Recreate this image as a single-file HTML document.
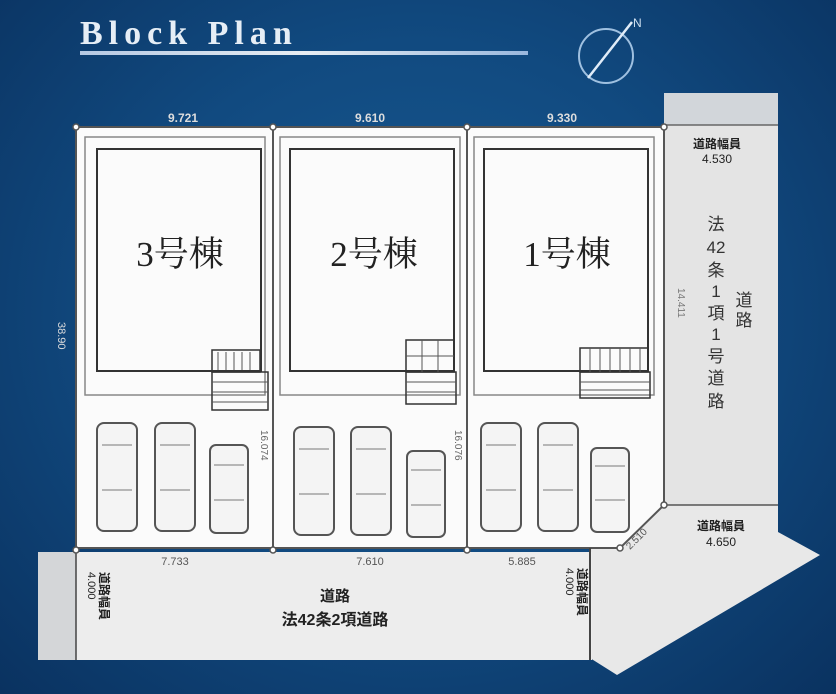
<!DOCTYPE html>
<html><head><meta charset="utf-8"><style>
body{margin:0;width:836px;height:694px;overflow:hidden;background:radial-gradient(ellipse at 50% 45%,#185a92 0%,#114a80 50%,#0a3260 100%);font-family:"Liberation Serif","Noto Serif CJK SC",serif;}
svg{position:absolute;left:0;top:0}
</style></head><body>
<svg width="836" height="694" viewBox="0 0 836 694">
<defs><linearGradient id="ul" x1="0" x2="1"><stop offset="0" stop-color="#c8d8f0"/><stop offset="0.5" stop-color="#ffffff"/><stop offset="1" stop-color="#a9c4e8"/></linearGradient></defs>
<text x="80" y="44" font-size="34" font-weight="bold" letter-spacing="6" fill="#e6eef6" font-family="Liberation Serif,serif">Block Plan</text>
<rect x="80" y="51" width="448" height="4" fill="url(#ul)" opacity="0.9"/>
<circle cx="606" cy="56" r="27" fill="none" stroke="#9fc0e0" stroke-width="2"/>
<line x1="588" y1="78" x2="632" y2="22" stroke="#e0ecf8" stroke-width="2.5"/>
<text x="633" y="27" font-size="12" fill="#cfe0f0" font-family="Liberation Sans,sans-serif">N</text>
<rect x="664" y="93" width="114" height="415" fill="#e4e4e4"/>
<rect x="664" y="93" width="114" height="32" fill="#d2d6da"/>
<polygon points="590,548 664,505 778,505 778,532 820,555 617,675 590,658" fill="#e8e8e8"/>
<rect x="38" y="552" width="554" height="108" fill="#ededed"/>
<rect x="38" y="552" width="38" height="108" fill="#d4d6d8"/>
<polygon points="76,127 664,127 664,505 620,548 76,548" fill="#fbfbfb" stroke="#555" stroke-width="2"/>
<line x1="273" y1="127" x2="273" y2="548" stroke="#555" stroke-width="2"/>
<line x1="467" y1="127" x2="467" y2="548" stroke="#555" stroke-width="2"/>
<line x1="590" y1="548" x2="590" y2="660" stroke="#444" stroke-width="2"/>
<line x1="76" y1="548" x2="76" y2="660" stroke="#444" stroke-width="1.5"/>
<line x1="664" y1="125" x2="778" y2="125" stroke="#666" stroke-width="1.5"/>
<line x1="664" y1="505" x2="778" y2="505" stroke="#555" stroke-width="1.5"/>
<g fill="#fff" stroke="#555" stroke-width="1.5"><circle cx="76" cy="127" r="3"/><circle cx="273" cy="127" r="3"/><circle cx="467" cy="127" r="3"/><circle cx="664" cy="127" r="3"/><circle cx="76" cy="550" r="3"/><circle cx="273" cy="550" r="3"/><circle cx="467" cy="550" r="3"/><circle cx="620" cy="548" r="3"/><circle cx="664" cy="505" r="3"/></g>
<g fill="none" stroke="#333" stroke-width="1.5">
<rect x="85" y="137" width="180" height="258" stroke="#888"/>
<rect x="97" y="149" width="164" height="222" stroke-width="2"/>
<rect x="280" y="137" width="180" height="258" stroke="#888"/>
<rect x="290" y="149" width="164" height="222" stroke-width="2"/>
<rect x="474" y="137" width="180" height="258" stroke="#888"/>
<rect x="484" y="149" width="164" height="222" stroke-width="2"/>
<rect x="212" y="350" width="48" height="22"/><rect x="212" y="372" width="56" height="38"/>
<rect x="406" y="340" width="48" height="32"/><rect x="406" y="372" width="50" height="32"/>
<rect x="580" y="348" width="68" height="24"/><rect x="580" y="372" width="70" height="26"/>
</g>
<g stroke="#555" stroke-width="1"><path d="M218 352v18M226 352v18M234 352v18M242 352v18M250 352v18M212 382h56M212 392h56M212 402h56M422 340v32M438 340v32M406 356h48M406 382h50M406 392h50M590 348v24M600 348v24M610 348v24M620 348v24M630 348v24M640 348v24M580 382h70M580 390h70"/></g>
<g fill="#f4f4f4" stroke="#555" stroke-width="2">
<rect x="97" y="423" width="40" height="108" rx="7"/><rect x="155" y="423" width="40" height="108" rx="7"/><rect x="210" y="445" width="38" height="88" rx="6"/>
<rect x="294" y="427" width="40" height="108" rx="7"/><rect x="351" y="427" width="40" height="108" rx="7"/><rect x="407" y="451" width="38" height="86" rx="6"/>
<rect x="481" y="423" width="40" height="108" rx="7"/><rect x="538" y="423" width="40" height="108" rx="7"/><rect x="591" y="448" width="38" height="84" rx="6"/>
</g>
<g stroke="#777" stroke-width="1"><path d="M102 445h30M102 490h30M160 445h30M160 490h30M214 465h30M214 500h30M299 449h30M299 494h30M356 449h30M356 494h30M411 470h30M411 505h30M486 445h30M486 490h30M543 445h30M543 490h30M595 466h30M595 500h30"/></g>
<g font-family="Liberation Sans,'Noto Sans CJK JP',sans-serif" fill="#222">
<text x="183" y="122" font-size="12" text-anchor="middle" fill="#ddd" font-weight="bold">9.721</text>
<text x="370" y="122" font-size="12" text-anchor="middle" fill="#ddd" font-weight="bold">9.610</text>
<text x="562" y="122" font-size="12" text-anchor="middle" fill="#ddd" font-weight="bold">9.330</text>
<text x="175" y="565" font-size="11" text-anchor="middle" fill="#555">7.733</text>
<text x="370" y="565" font-size="11" text-anchor="middle" fill="#555">7.610</text>
<text x="522" y="565" font-size="11" text-anchor="middle" fill="#555">5.885</text>
<text font-size="11" fill="#ddd" transform="translate(58,322) rotate(90)">38.90</text>
<text font-size="10" fill="#666" transform="translate(261,430) rotate(90)">16.074</text>
<text font-size="10" fill="#666" transform="translate(455,430) rotate(90)">16.076</text>
<text font-size="10" fill="#777" transform="translate(678,288) rotate(90)">14.411</text>
<text font-size="10" fill="#555" transform="translate(630,550) rotate(-45)">2.510</text>
<text x="717" y="148" font-size="12" text-anchor="middle" font-weight="bold">道路幅員</text>
<text x="717" y="163" font-size="12" text-anchor="middle">4.530</text>
<text x="721" y="530" font-size="12" text-anchor="middle" font-weight="bold">道路幅員</text>
<text x="721" y="546" font-size="12" text-anchor="middle">4.650</text>
<text x="335" y="601" font-size="15" text-anchor="middle" font-weight="bold">道路</text>
<text x="335" y="625" font-size="16" text-anchor="middle" font-weight="bold">法42条2項道路</text>
<g font-size="17" text-anchor="middle" fill="#333">
<text x="716" y="230">法</text><text x="716" y="253">42</text><text x="716" y="276">条</text><text x="716" y="297">1</text><text x="716" y="319">項</text><text x="716" y="340">1</text><text x="716" y="362">号</text><text x="716" y="384">道</text><text x="716" y="407">路</text><text x="744" y="306">道</text><text x="744" y="326">路</text>
</g>
<text font-size="12" font-weight="bold" transform="translate(100,572) rotate(90)">道路幅員</text>
<text font-size="11" transform="translate(88,572) rotate(90)">4.000</text>
<text font-size="12" font-weight="bold" transform="translate(578,568) rotate(90)">道路幅員</text>
<text font-size="11" transform="translate(566,568) rotate(90)">4.000</text>
</g>
<g font-family="Liberation Serif,'Noto Serif CJK SC',serif" font-size="35" fill="#222" text-anchor="middle">
<text x="180" y="266">3号棟</text><text x="374" y="266">2号棟</text><text x="567" y="266">1号棟</text>
</g>
</svg>
</body></html>
